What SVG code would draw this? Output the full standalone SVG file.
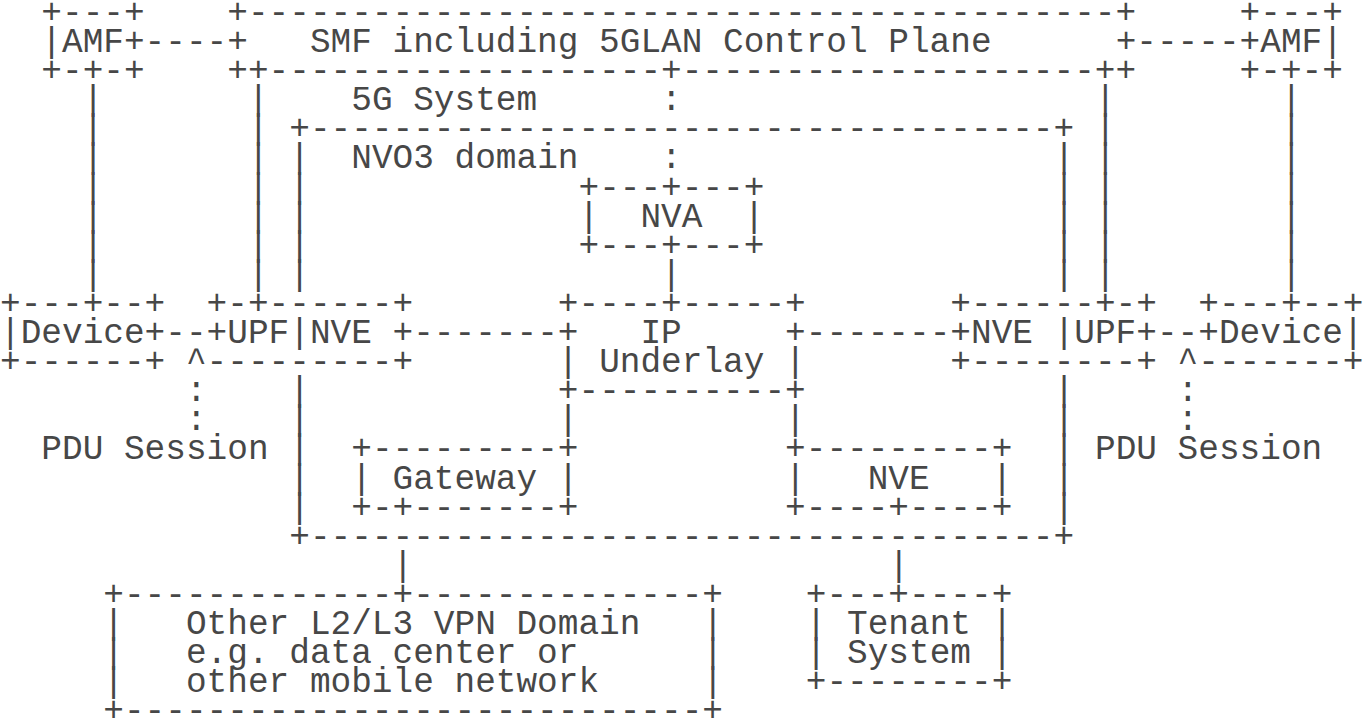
<svg xmlns="http://www.w3.org/2000/svg" width="1367" height="719" viewBox="0 0 1367 719" xml:space="preserve">
<style>
text{font-family:"Liberation Mono","Courier New",monospace;font-size:34.43px;fill:#474747;white-space:pre}
</style>
<rect width="1367" height="719" fill="#ffffff"/>
<g id="amf-left">
<text x="41.32" y="22.9">+---+</text>
<text x="41.32" y="52">|AMF+</text>
<text x="41.32" y="81.1">+-+-+</text>
</g>
<g id="smf">
<text x="227.26" y="22.9">+------------------------------------------+</text>
<text x="227.26" y="52">+</text>
<text x="309.9" y="52">SMF including 5GLAN Control Plane</text>
<text x="1115.64" y="52">+</text>
<text x="227.26" y="81.1">++-------------------+--------------------++</text>
</g>
<g id="amf-right">
<text x="1239.6" y="22.9">+---+</text>
<text x="1239.6" y="52">+AMF|</text>
<text x="1239.6" y="81.1">+-+-+</text>
</g>
<g id="system-5g">
<text x="351.22" y="110.2">5G System</text>
</g>
<g id="nvo3-domain">
<text x="289.24" y="139.3">+------------------------------------+</text>
<text x="351.22" y="168.4">NVO3 domain</text>
<text x="289.24" y="168.4">|</text><text x="289.24" y="197.5">|</text><text x="289.24" y="226.6">|</text><text x="289.24" y="255.7">|</text><text x="289.24" y="284.8">|</text>
<text x="1053.66" y="168.4">|</text><text x="1053.66" y="197.5">|</text><text x="1053.66" y="226.6">|</text><text x="1053.66" y="255.7">|</text><text x="1053.66" y="284.8">|</text>
<text x="289.24" y="401.2">|</text><text x="289.24" y="430.3">|</text><text x="289.24" y="459.4">|</text><text x="289.24" y="488.5">|</text><text x="289.24" y="517.6">|</text>
<text x="1053.66" y="401.2">|</text><text x="1053.66" y="430.3">|</text><text x="1053.66" y="459.4">|</text><text x="1053.66" y="488.5">|</text><text x="1053.66" y="517.6">|</text>
<text x="289.24" y="546.7">+------------------------------------+</text>
</g>
<g id="nva">
<text x="578.48" y="197.5">+---+---+</text>
<text x="578.48" y="226.6">|  NVA  |</text>
<text x="578.48" y="255.7">+---+---+</text>
</g>
<g id="device-left">
<text x="0" y="313.9">+---+--+</text>
<text x="0" y="343">|Device+</text>
<text x="0" y="372.1">+------+</text>
</g>
<g id="upf-nve-left">
<text x="206.6" y="313.9">+-+------+</text>
<text x="206.6" y="343">+UPF|NVE +</text>
<text x="206.6" y="372.1">---------+</text>
</g>
<g id="ip-underlay">
<text x="557.82" y="313.9">+----+-----+</text>
<text x="557.82" y="343">+</text>
<text x="640.46" y="343">IP</text>
<text x="785.08" y="343">+</text>
<text x="557.82" y="372.1">|</text>
<text x="599.14" y="372.1">Underlay</text>
<text x="785.08" y="372.1">|</text>
<text x="557.82" y="401.2">+----------+</text>
</g>
<g id="nve-upf-right">
<text x="950.36" y="313.9">+------+-+</text>
<text x="950.36" y="343">+NVE |UPF+</text>
<text x="950.36" y="372.1">+--------+</text>
</g>
<g id="device-right">
<text x="1198.28" y="313.9">+---+--+</text>
<text x="1198.28" y="343">+Device|</text>
<text x="1198.28" y="372.1">-------+</text>
</g>
<g id="pdu-session-left">
<text x="185.94" y="372.1">^</text>
<text x="185.94" y="401.2">:</text>
<text x="185.94" y="430.3">:</text>
<text x="41.32" y="459.4">PDU Session</text>
</g>
<g id="pdu-session-right">
<text x="1177.62" y="372.1">^</text>
<text x="1177.62" y="401.2">:</text>
<text x="1177.62" y="430.3">:</text>
<text x="1094.98" y="459.4">PDU Session</text>
</g>
<g id="gateway">
<text x="351.22" y="459.4">+---------+</text>
<text x="351.22" y="488.5">| Gateway |</text>
<text x="351.22" y="517.6">+-+-------+</text>
</g>
<g id="nve">
<text x="785.08" y="459.4">+---------+</text>
<text x="785.08" y="488.5">|   NVE   |</text>
<text x="785.08" y="517.6">+----+----+</text>
</g>
<g id="other-vpn-domain">
<text x="103.3" y="604.9">+-------------+--------------+</text>
<text x="103.3" y="634">|</text><text x="103.3" y="663.1">|</text><text x="103.3" y="692.2">|</text>
<text x="702.44" y="634">|</text><text x="702.44" y="663.1">|</text><text x="702.44" y="692.2">|</text>
<text x="185.94" y="634">Other L2/L3 VPN Domain</text>
<text x="185.94" y="663.1">e.g. data center or</text>
<text x="185.94" y="692.2">other mobile network</text>
<text x="103.3" y="721.3">+----------------------------+</text>
</g>
<g id="tenant-system">
<text x="805.74" y="604.9">+---+----+</text>
<text x="805.74" y="634">|</text><text x="847.06" y="634">Tenant</text><text x="991.68" y="634">|</text>
<text x="805.74" y="663.1">|</text><text x="847.06" y="663.1">System</text><text x="991.68" y="663.1">|</text>
<text x="805.74" y="692.2">+--------+</text>
</g>
<g id="connectors">
<text x="144.62" y="52">----</text>
<text x="1136.3" y="52">-----</text>
<text x="82.64" y="110.2">|</text><text x="82.64" y="139.3">|</text><text x="82.64" y="168.4">|</text><text x="82.64" y="197.5">|</text><text x="82.64" y="226.6">|</text><text x="82.64" y="255.7">|</text><text x="82.64" y="284.8">|</text>
<text x="1280.92" y="110.2">|</text><text x="1280.92" y="139.3">|</text><text x="1280.92" y="168.4">|</text><text x="1280.92" y="197.5">|</text><text x="1280.92" y="226.6">|</text><text x="1280.92" y="255.7">|</text><text x="1280.92" y="284.8">|</text>
<text x="247.92" y="110.2">|</text><text x="247.92" y="139.3">|</text><text x="247.92" y="168.4">|</text><text x="247.92" y="197.5">|</text><text x="247.92" y="226.6">|</text><text x="247.92" y="255.7">|</text><text x="247.92" y="284.8">|</text>
<text x="1094.98" y="110.2">|</text><text x="1094.98" y="139.3">|</text><text x="1094.98" y="168.4">|</text><text x="1094.98" y="197.5">|</text><text x="1094.98" y="226.6">|</text><text x="1094.98" y="255.7">|</text><text x="1094.98" y="284.8">|</text>
<text x="661.12" y="110.2">:</text>
<text x="661.12" y="168.4">:</text>
<text x="661.12" y="284.8">|</text>
<text x="165.28" y="343">--</text>
<text x="413.2" y="343">-------</text>
<text x="805.74" y="343">-------</text>
<text x="1156.96" y="343">--</text>
<text x="557.82" y="430.3">|</text>
<text x="785.08" y="430.3">|</text>
<text x="392.54" y="575.8">|</text>
<text x="888.38" y="575.8">|</text>
</g>
</svg>
